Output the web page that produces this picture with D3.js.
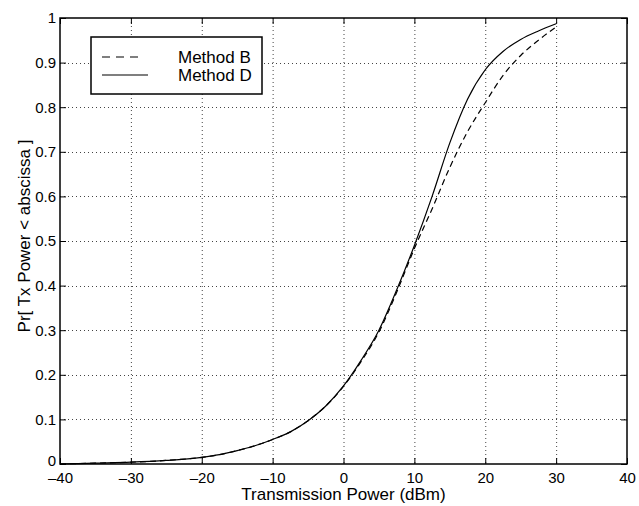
<!DOCTYPE html>
<html>
<head>
<meta charset="utf-8">
<script src="https://cdn.jsdelivr.net/npm/d3@7"></script>
<style>
  body { margin: 0; background: #fff; }
  text { font-family: "Liberation Sans", Arial, sans-serif; }
</style>
</head>
<body>
<div id="chart"></div>
<script>
// Tx power CDF
const powerDbm = [-40, -35, -30, -25, -20, -17.5, -15, -12.5, -10, -7.5, -5, -2.5, 0, 2.5, 5, 7.5, 10, 12.5, 15, 17.5, 20, 22.5, 25, 27.5, 30];
const methodB = [0, 0.002, 0.004, 0.008, 0.015, 0.021, 0.03, 0.041, 0.055, 0.072, 0.097, 0.13, 0.174, 0.23, 0.296, 0.385, 0.483, 0.572, 0.665, 0.745, 0.81, 0.871, 0.916, 0.95, 0.98];
const methodD = [0, 0.002, 0.004, 0.008, 0.015, 0.021, 0.03, 0.041, 0.055, 0.072, 0.097, 0.13, 0.175, 0.233, 0.3, 0.39, 0.49, 0.6, 0.72, 0.818, 0.884, 0.925, 0.952, 0.971, 0.987];
const xTicks = [-40, -30, -20, -10, 0, 10, 20, 30, 40];
const yTicks = [0, 0.1, 0.2, 0.3, 0.4, 0.5, 0.6, 0.7, 0.8, 0.9, 1];

const width = 639, height = 506;
const margin = { top: 18, right: 12, bottom: 42, left: 60 };

const svg = d3.select('#chart').append('svg')
    .attr('width', width)
    .attr('height', height);

const x = d3.scaleLinear()
    .domain([-40, 40])
    .range([margin.left, width - margin.right]);

const y = d3.scaleLinear()
    .domain([0, 1])
    .range([height - margin.bottom, margin.top]);

const fmtX = d => d < 0 ? '\u2013' + Math.abs(d) : String(d);
const fmtY = d => String(d);

// dotted grid
const grid = svg.append('g')
    .attr('stroke', '#444')
    .attr('stroke-width', 1)
    .attr('stroke-dasharray', '1,3');

grid.selectAll('.gx')
    .data(xTicks.slice(1, -1))
    .join('line')
    .attr('x1', d => x(d) + 0.5).attr('x2', d => x(d) + 0.5)
    .attr('y1', y(1)).attr('y2', y(0));

grid.selectAll('.gy')
    .data(yTicks.slice(1, -1))
    .join('line')
    .attr('y1', d => Math.round(y(d)) + 0.5).attr('y2', d => Math.round(y(d)) + 0.5)
    .attr('x1', x(-40)).attr('x2', x(40));

// axes with inward ticks, box style
svg.append('g')
    .attr('transform', `translate(0,${y(0)})`)
    .call(d3.axisBottom(x).tickValues(xTicks).tickSize(-6).tickPadding(8).tickFormat(fmtX))
    .call(g => g.select('.domain').remove());

svg.append('g')
    .attr('transform', `translate(0,${y(1)})`)
    .call(d3.axisTop(x).tickValues(xTicks).tickSize(-6).tickFormat(''))
    .call(g => g.select('.domain').remove());

svg.append('g')
    .attr('class', 'y-left')
    .attr('transform', `translate(${x(-40)},0)`)
    .call(d3.axisLeft(y).tickValues(yTicks).tickSize(-6).tickPadding(4).tickFormat(fmtY))
    .call(g => g.select('.domain').remove());

svg.append('g')
    .attr('transform', `translate(${x(40)},0)`)
    .call(d3.axisRight(y).tickValues(yTicks).tickSize(-6).tickFormat(''))
    .call(g => g.select('.domain').remove());

svg.selectAll('.tick text')
    .attr('font-size', 15)
    .attr('fill', '#000');
svg.selectAll('.tick line').attr('stroke', '#000');

// the "0" sits a little high so it clears "-40"
svg.select('.y-left').selectAll('.tick text')
    .filter(d => d === 0)
    .attr('dy', '0.1em');

svg.append('rect')
    .attr('x', x(-40)).attr('y', y(1))
    .attr('width', x(40) - x(-40)).attr('height', y(0) - y(1))
    .attr('fill', 'none')
    .attr('stroke', '#000')
    .attr('stroke-width', 1.5);

// curves
const line = d3.line()
    .x((d, i) => x(powerDbm[i]))
    .y(d => y(d))
    .curve(d3.curveMonotoneX);

svg.append('path')
    .datum(methodB)
    .attr('d', line)
    .attr('fill', 'none')
    .attr('stroke', '#000')
    .attr('stroke-width', 1.2)
    .attr('stroke-dasharray', '6,4');

svg.append('path')
    .datum(methodD)
    .attr('d', line)
    .attr('fill', 'none')
    .attr('stroke', '#000')
    .attr('stroke-width', 1.2);

// legend
const legend = svg.append('g').attr('transform', 'translate(91,37)');
legend.append('rect')
    .attr('width', 171).attr('height', 57)
    .attr('fill', '#fff')
    .attr('stroke', '#000')
    .attr('stroke-width', 1.5);

const legendItems = [
    { name: 'Method B', dash: '8,6' },
    { name: 'Method D', dash: null }
];
legendItems.forEach((item, i) => {
    const yy = 20 + i * 18;
    legend.append('line')
        .attr('x1', 11).attr('x2', i === 0 ? 49 : 57)
        .attr('y1', yy).attr('y2', yy)
        .attr('stroke', '#000')
        .attr('stroke-width', 1.2)
        .attr('stroke-dasharray', item.dash);
    legend.append('text')
        .attr('x', 87).attr('y', yy + 6)
        .attr('font-size', 17)
        .text(item.name);
});

// axis titles
svg.append('text')
    .attr('x', x(0)).attr('y', 500)
    .attr('text-anchor', 'middle')
    .attr('font-size', 17)
    .text('Transmission Power (dBm)');

svg.append('text')
    .attr('transform', `translate(30,${(y(0) + y(1)) / 2 - 5}) rotate(-90)`)
    .attr('text-anchor', 'middle')
    .attr('font-size', 17)
    .text('Pr[ Tx Power < abscissa ]');
</script>
</body>
</html>
